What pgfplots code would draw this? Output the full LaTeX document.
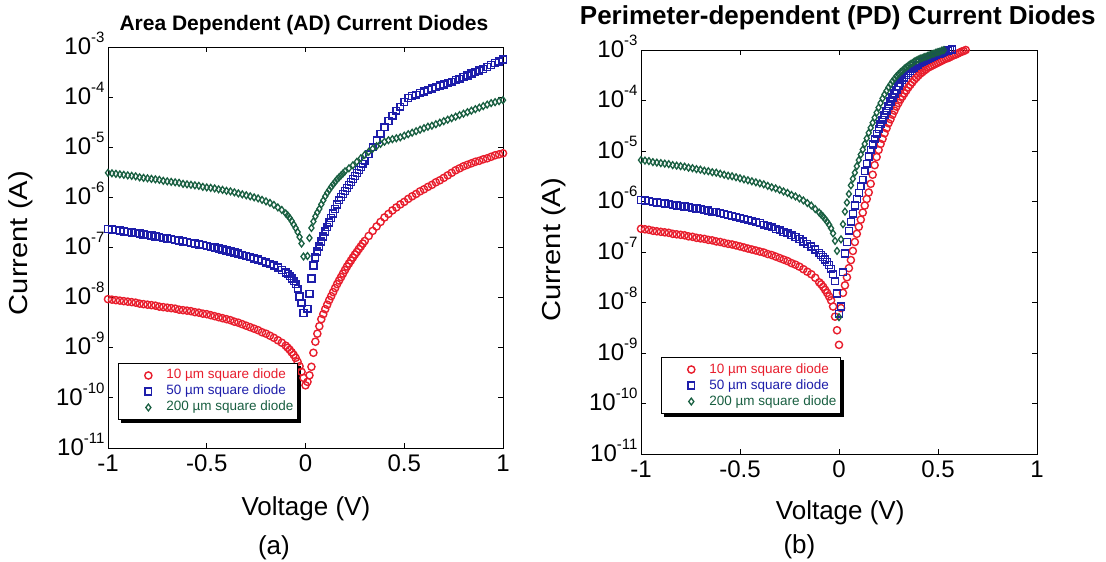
\documentclass[border=0pt]{standalone}
\usepackage{pgfplots}
\pgfplotsset{compat=1.18}
\usepackage{pgfplotstable}
\usepackage{fontspec}
\setmainfont{Liberation Sans}
\usetikzlibrary{backgrounds}
\definecolor{cred}{RGB}{232,30,45}
\definecolor{cblue}{RGB}{30,30,170}
\definecolor{cgreen}{RGB}{25,95,65}
\newcommand{\sps}[1]{\raisebox{12pt}{\fontsize{15}{15}\selectfont #1}}

% ---------- (a) Area dependent ----------
\pgfplotstableread{
V I
-1.00 9.33e-9
-0.98 9.12e-9
-0.96 8.91e-9
-0.94 8.71e-9
-0.92 8.51e-9
-0.90 8.32e-9
-0.88 8.13e-9
-0.86 7.94e-9
-0.84 7.59e-9
-0.82 7.41e-9
-0.80 7.24e-9
-0.78 7.08e-9
-0.76 6.92e-9
-0.74 6.61e-9
-0.72 6.46e-9
-0.70 6.31e-9
-0.68 6.17e-9
-0.66 6.03e-9
-0.64 5.75e-9
-0.62 5.62e-9
-0.60 5.50e-9
-0.58 5.37e-9
-0.56 5.13e-9
-0.54 5.01e-9
-0.52 4.79e-9
-0.50 4.68e-9
-0.48 4.47e-9
-0.46 4.27e-9
-0.44 4.07e-9
-0.42 3.89e-9
-0.40 3.72e-9
-0.38 3.55e-9
-0.36 3.31e-9
-0.34 3.16e-9
-0.32 2.95e-9
-0.30 2.75e-9
-0.28 2.57e-9
-0.26 2.40e-9
-0.24 2.24e-9
-0.22 2.04e-9
-0.20 1.91e-9
-0.18 1.74e-9
-0.16 1.58e-9
-0.14 1.41e-9
-0.12 1.26e-9
-0.10 1.10e-9
-0.09 1.00e-9
-0.08 9.12e-10
-0.07 8.13e-10
-0.06 7.24e-10
-0.05 6.31e-10
-0.04 5.25e-10
-0.03 4.27e-10
-0.02 3.31e-10
-0.01 2.51e-10
0.00 1.78e-10
0.01 2.09e-10
0.02 2.82e-10
0.03 4.17e-10
0.04 7.94e-10
0.05 1.32e-9
0.06 1.91e-9
0.07 2.69e-9
0.08 3.72e-9
0.09 4.68e-9
0.10 5.89e-9
0.11 7.24e-9
0.12 8.91e-9
0.13 1.07e-8
0.14 1.29e-8
0.15 1.55e-8
0.16 1.86e-8
0.17 2.19e-8
0.18 2.57e-8
0.19 3.02e-8
0.20 3.55e-8
0.21 4.17e-8
0.22 4.79e-8
0.23 5.50e-8
0.24 6.31e-8
0.25 7.24e-8
0.26 8.13e-8
0.27 9.33e-8
0.28 1.05e-7
0.29 1.20e-7
0.30 1.35e-7
0.32 1.70e-7
0.34 2.14e-7
0.36 2.63e-7
0.38 3.24e-7
0.40 3.98e-7
0.42 4.68e-7
0.44 5.50e-7
0.46 6.31e-7
0.48 7.24e-7
0.50 8.13e-7
0.52 9.33e-7
0.54 1.05e-6
0.56 1.17e-6
0.58 1.32e-6
0.60 1.45e-6
0.62 1.62e-6
0.64 1.78e-6
0.66 2.00e-6
0.68 2.19e-6
0.70 2.45e-6
0.72 2.75e-6
0.74 3.09e-6
0.76 3.47e-6
0.78 3.80e-6
0.80 4.17e-6
0.82 4.47e-6
0.84 4.79e-6
0.86 5.13e-6
0.88 5.37e-6
0.90 5.75e-6
0.92 6.03e-6
0.94 6.46e-6
0.96 6.92e-6
0.98 7.24e-6
1.00 7.59e-6
}\LR

\pgfplotstableread{
V I
-1.00 2.34e-7
-0.98 2.29e-7
-0.96 2.24e-7
-0.94 2.19e-7
-0.92 2.09e-7
-0.90 2.04e-7
-0.88 2.00e-7
-0.86 1.95e-7
-0.84 1.91e-7
-0.82 1.82e-7
-0.80 1.78e-7
-0.78 1.74e-7
-0.76 1.66e-7
-0.74 1.62e-7
-0.72 1.55e-7
-0.70 1.51e-7
-0.68 1.48e-7
-0.66 1.41e-7
-0.64 1.38e-7
-0.62 1.32e-7
-0.60 1.29e-7
-0.58 1.23e-7
-0.56 1.20e-7
-0.54 1.15e-7
-0.52 1.12e-7
-0.50 1.07e-7
-0.48 1.02e-7
-0.46 1.00e-7
-0.44 9.55e-8
-0.42 9.12e-8
-0.40 8.71e-8
-0.38 8.32e-8
-0.36 7.94e-8
-0.34 7.59e-8
-0.32 7.08e-8
-0.30 6.76e-8
-0.28 6.46e-8
-0.26 6.03e-8
-0.24 5.75e-8
-0.22 5.37e-8
-0.20 5.01e-8
-0.18 4.68e-8
-0.16 4.37e-8
-0.14 3.98e-8
-0.12 3.55e-8
-0.10 3.16e-8
-0.09 2.95e-8
-0.08 2.69e-8
-0.07 2.40e-8
-0.06 2.14e-8
-0.05 1.86e-8
-0.04 1.51e-8
-0.03 1.05e-8
-0.02 7.94e-9
-0.01 4.90e-9
0.01 6.03e-9
0.02 1.20e-8
0.03 2.40e-8
0.04 4.37e-8
0.05 6.31e-8
0.06 8.32e-8
0.07 1.05e-7
0.08 1.32e-7
0.09 1.66e-7
0.10 2.09e-7
0.11 2.57e-7
0.12 3.16e-7
0.13 3.89e-7
0.14 4.79e-7
0.15 5.89e-7
0.16 7.24e-7
0.17 8.71e-7
0.18 1.02e-6
0.19 1.17e-6
0.20 1.35e-6
0.21 1.55e-6
0.22 1.78e-6
0.23 2.04e-6
0.24 2.34e-6
0.25 2.69e-6
0.26 3.09e-6
0.27 3.55e-6
0.28 4.07e-6
0.29 4.68e-6
0.30 5.37e-6
0.32 7.24e-6
0.34 1.00e-5
0.36 1.38e-5
0.38 1.86e-5
0.40 2.51e-5
0.42 3.31e-5
0.44 4.27e-5
0.46 5.37e-5
0.48 6.46e-5
0.50 7.94e-5
0.52 9.55e-5
0.54 1.05e-4
0.56 1.12e-4
0.58 1.20e-4
0.60 1.29e-4
0.62 1.38e-4
0.64 1.48e-4
0.66 1.58e-4
0.68 1.70e-4
0.70 1.78e-4
0.72 1.91e-4
0.74 2.04e-4
0.76 2.19e-4
0.78 2.34e-4
0.80 2.51e-4
0.82 2.69e-4
0.84 2.95e-4
0.86 3.16e-4
0.88 3.39e-4
0.90 3.63e-4
0.92 3.98e-4
0.94 4.37e-4
0.96 4.79e-4
0.98 5.13e-4
1.00 5.62e-4
}\LB

\pgfplotstableread{
V I
-1.00 3.09e-6
-0.98 3.02e-6
-0.96 2.95e-6
-0.94 2.88e-6
-0.92 2.82e-6
-0.90 2.75e-6
-0.88 2.69e-6
-0.86 2.63e-6
-0.84 2.51e-6
-0.82 2.45e-6
-0.80 2.40e-6
-0.78 2.34e-6
-0.76 2.29e-6
-0.74 2.24e-6
-0.72 2.14e-6
-0.70 2.09e-6
-0.68 2.04e-6
-0.66 2.00e-6
-0.64 1.95e-6
-0.62 1.86e-6
-0.60 1.82e-6
-0.58 1.78e-6
-0.56 1.74e-6
-0.54 1.70e-6
-0.52 1.62e-6
-0.50 1.58e-6
-0.48 1.55e-6
-0.46 1.51e-6
-0.44 1.45e-6
-0.42 1.41e-6
-0.40 1.35e-6
-0.38 1.32e-6
-0.36 1.26e-6
-0.34 1.20e-6
-0.32 1.15e-6
-0.30 1.10e-6
-0.28 1.05e-6
-0.26 1.00e-6
-0.24 9.55e-7
-0.22 8.91e-7
-0.20 8.32e-7
-0.18 7.76e-7
-0.16 7.08e-7
-0.14 6.31e-7
-0.12 5.62e-7
-0.10 4.79e-7
-0.09 4.37e-7
-0.08 3.89e-7
-0.07 3.39e-7
-0.06 2.88e-7
-0.05 2.45e-7
-0.04 2.04e-7
-0.03 1.62e-7
-0.02 1.20e-7
-0.01 6.61e-8
0.01 6.76e-8
0.02 1.55e-7
0.03 2.45e-7
0.04 3.31e-7
0.05 4.17e-7
0.06 5.01e-7
0.07 5.89e-7
0.08 7.24e-7
0.09 8.71e-7
0.10 1.05e-6
0.11 1.23e-6
0.12 1.41e-6
0.13 1.62e-6
0.14 1.82e-6
0.15 2.04e-6
0.16 2.29e-6
0.17 2.51e-6
0.18 2.75e-6
0.19 3.02e-6
0.20 3.31e-6
0.22 3.80e-6
0.24 4.37e-6
0.26 5.13e-6
0.28 6.03e-6
0.30 7.08e-6
0.32 8.13e-6
0.34 9.33e-6
0.36 1.05e-5
0.38 1.17e-5
0.40 1.29e-5
0.42 1.38e-5
0.44 1.45e-5
0.46 1.51e-5
0.48 1.58e-5
0.50 1.70e-5
0.52 1.82e-5
0.54 1.95e-5
0.56 2.09e-5
0.58 2.24e-5
0.60 2.40e-5
0.62 2.57e-5
0.64 2.69e-5
0.66 2.88e-5
0.68 3.09e-5
0.70 3.31e-5
0.72 3.55e-5
0.74 3.80e-5
0.76 4.07e-5
0.78 4.37e-5
0.80 4.68e-5
0.82 5.01e-5
0.84 5.37e-5
0.86 5.75e-5
0.88 6.17e-5
0.90 6.61e-5
0.92 7.08e-5
0.94 7.59e-5
0.96 7.94e-5
0.98 8.32e-5
1.00 8.71e-5
}\LG

% ---------- (b) Perimeter dependent ----------
\pgfplotstableread{
V I
-1.00 2.88e-7
-0.98 2.82e-7
-0.96 2.75e-7
-0.94 2.63e-7
-0.92 2.57e-7
-0.90 2.51e-7
-0.88 2.45e-7
-0.86 2.40e-7
-0.84 2.29e-7
-0.82 2.24e-7
-0.80 2.19e-7
-0.78 2.14e-7
-0.76 2.04e-7
-0.74 2.00e-7
-0.72 1.91e-7
-0.70 1.86e-7
-0.68 1.82e-7
-0.66 1.74e-7
-0.64 1.70e-7
-0.62 1.62e-7
-0.60 1.58e-7
-0.58 1.51e-7
-0.56 1.45e-7
-0.54 1.41e-7
-0.52 1.35e-7
-0.50 1.29e-7
-0.48 1.23e-7
-0.46 1.17e-7
-0.44 1.12e-7
-0.42 1.07e-7
-0.40 1.02e-7
-0.38 9.77e-8
-0.36 9.12e-8
-0.34 8.71e-8
-0.32 8.13e-8
-0.30 7.59e-8
-0.28 7.08e-8
-0.26 6.61e-8
-0.24 6.03e-8
-0.22 5.62e-8
-0.20 5.13e-8
-0.18 4.57e-8
-0.16 4.07e-8
-0.14 3.63e-8
-0.12 3.09e-8
-0.10 2.51e-8
-0.09 2.29e-8
-0.08 2.04e-8
-0.07 1.78e-8
-0.06 1.55e-8
-0.05 1.32e-8
-0.04 1.10e-8
-0.03 8.32e-9
-0.02 5.25e-9
-0.01 2.82e-9
0.00 1.45e-9
0.01 7.76e-9
0.02 1.55e-8
0.03 2.19e-8
0.04 3.16e-8
0.05 4.79e-8
0.06 6.92e-8
0.07 1.05e-7
0.08 1.58e-7
0.09 2.29e-7
0.10 3.16e-7
0.11 4.37e-7
0.12 6.03e-7
0.13 8.32e-7
0.14 1.12e-6
0.15 1.51e-6
0.16 2.24e-6
0.17 3.39e-6
0.18 5.25e-6
0.19 7.59e-6
0.20 1.05e-5
0.21 1.38e-5
0.22 1.74e-5
0.23 2.24e-5
0.24 2.82e-5
0.25 3.55e-5
0.26 4.27e-5
0.27 5.25e-5
0.28 6.31e-5
0.29 7.59e-5
0.30 8.91e-5
0.31 1.05e-4
0.32 1.20e-4
0.33 1.38e-4
0.34 1.58e-4
0.35 1.82e-4
0.36 2.04e-4
0.37 2.29e-4
0.38 2.57e-4
0.39 2.82e-4
0.40 3.09e-4
0.41 3.39e-4
0.42 3.63e-4
0.43 3.89e-4
0.44 4.17e-4
0.45 4.47e-4
0.46 4.68e-4
0.47 4.90e-4
0.48 5.13e-4
0.49 5.37e-4
0.50 5.62e-4
0.51 5.89e-4
0.52 6.17e-4
0.53 6.46e-4
0.54 6.76e-4
0.55 6.92e-4
0.56 7.24e-4
0.57 7.59e-4
0.58 7.94e-4
0.59 8.13e-4
0.60 8.51e-4
0.61 8.91e-4
0.62 9.33e-4
0.63 9.55e-4
0.64 1.00e-3
}\RR

\pgfplotstableread{
V I
-1.00 1.07e-6
-0.98 1.05e-6
-0.96 1.02e-6
-0.94 9.77e-7
-0.92 9.55e-7
-0.90 9.33e-7
-0.88 9.12e-7
-0.86 8.91e-7
-0.84 8.51e-7
-0.82 8.32e-7
-0.80 8.13e-7
-0.78 7.94e-7
-0.76 7.76e-7
-0.74 7.41e-7
-0.72 7.24e-7
-0.70 7.08e-7
-0.68 6.76e-7
-0.66 6.61e-7
-0.64 6.31e-7
-0.62 6.17e-7
-0.60 5.89e-7
-0.58 5.62e-7
-0.56 5.37e-7
-0.54 5.25e-7
-0.52 5.01e-7
-0.50 4.79e-7
-0.48 4.57e-7
-0.46 4.37e-7
-0.44 4.17e-7
-0.42 3.89e-7
-0.40 3.72e-7
-0.38 3.47e-7
-0.36 3.31e-7
-0.34 3.09e-7
-0.32 2.88e-7
-0.30 2.69e-7
-0.28 2.51e-7
-0.26 2.34e-7
-0.24 2.14e-7
-0.22 2.00e-7
-0.20 1.82e-7
-0.18 1.62e-7
-0.16 1.45e-7
-0.14 1.29e-7
-0.12 1.12e-7
-0.10 9.55e-8
-0.09 8.71e-8
-0.08 7.94e-8
-0.07 7.08e-8
-0.06 6.31e-8
-0.05 5.50e-8
-0.04 4.68e-8
-0.03 3.63e-8
-0.02 2.63e-8
-0.01 1.51e-8
0.00 6.03e-9
0.01 8.32e-9
0.02 3.98e-8
0.03 9.33e-8
0.04 1.58e-7
0.05 2.63e-7
0.06 3.98e-7
0.07 5.75e-7
0.08 8.32e-7
0.09 1.12e-6
0.10 1.48e-6
0.11 2.00e-6
0.12 2.69e-6
0.13 3.98e-6
0.14 5.62e-6
0.15 7.76e-6
0.16 1.05e-5
0.17 1.35e-5
0.18 1.70e-5
0.19 2.19e-5
0.20 2.75e-5
0.21 3.39e-5
0.22 4.17e-5
0.23 5.13e-5
0.24 6.31e-5
0.25 7.76e-5
0.26 9.55e-5
0.27 1.15e-4
0.28 1.38e-4
0.29 1.62e-4
0.30 1.91e-4
0.31 2.19e-4
0.32 2.51e-4
0.33 2.82e-4
0.34 3.16e-4
0.35 3.47e-4
0.36 3.80e-4
0.37 4.17e-4
0.38 4.47e-4
0.39 4.79e-4
0.40 5.13e-4
0.41 5.50e-4
0.42 5.75e-4
0.43 6.17e-4
0.44 6.46e-4
0.45 6.76e-4
0.46 7.08e-4
0.47 7.41e-4
0.48 7.76e-4
0.49 7.94e-4
0.50 8.32e-4
0.51 8.51e-4
0.52 8.91e-4
0.53 9.12e-4
0.54 9.55e-4
0.55 9.77e-4
0.56 1.00e-3
0.57 1.02e-3
}\RB

\pgfplotstableread{
V I
-1.00 6.61e-6
-0.98 6.46e-6
-0.96 6.31e-6
-0.94 6.03e-6
-0.92 5.89e-6
-0.90 5.75e-6
-0.88 5.62e-6
-0.86 5.50e-6
-0.84 5.25e-6
-0.82 5.13e-6
-0.80 5.01e-6
-0.78 4.90e-6
-0.76 4.68e-6
-0.74 4.57e-6
-0.72 4.37e-6
-0.70 4.27e-6
-0.68 4.07e-6
-0.66 3.98e-6
-0.64 3.80e-6
-0.62 3.72e-6
-0.60 3.55e-6
-0.58 3.39e-6
-0.56 3.24e-6
-0.54 3.16e-6
-0.52 3.02e-6
-0.50 2.88e-6
-0.48 2.75e-6
-0.46 2.63e-6
-0.44 2.51e-6
-0.42 2.40e-6
-0.40 2.29e-6
-0.38 2.19e-6
-0.36 2.04e-6
-0.34 1.91e-6
-0.32 1.82e-6
-0.30 1.70e-6
-0.28 1.58e-6
-0.26 1.48e-6
-0.24 1.35e-6
-0.22 1.26e-6
-0.20 1.15e-6
-0.18 1.05e-6
-0.16 9.33e-7
-0.14 8.32e-7
-0.12 7.08e-7
-0.10 6.03e-7
-0.09 5.50e-7
-0.08 5.01e-7
-0.07 4.47e-7
-0.06 3.98e-7
-0.05 3.47e-7
-0.04 2.95e-7
-0.03 2.34e-7
-0.02 1.66e-7
-0.01 1.05e-7
0.00 5.13e-9
0.01 1.78e-7
0.02 3.55e-7
0.03 6.31e-7
0.04 9.55e-7
0.05 1.41e-6
0.06 2.09e-6
0.07 2.82e-6
0.08 3.72e-6
0.09 5.01e-6
0.10 6.61e-6
0.11 8.51e-6
0.12 1.07e-5
0.13 1.38e-5
0.14 1.78e-5
0.15 2.29e-5
0.16 2.88e-5
0.17 3.63e-5
0.18 4.57e-5
0.19 5.75e-5
0.20 7.24e-5
0.21 8.91e-5
0.22 1.10e-4
0.23 1.32e-4
0.24 1.55e-4
0.25 1.82e-4
0.26 2.09e-4
0.27 2.40e-4
0.28 2.69e-4
0.29 3.02e-4
0.30 3.31e-4
0.31 3.63e-4
0.32 3.89e-4
0.33 4.27e-4
0.34 4.57e-4
0.35 4.90e-4
0.36 5.25e-4
0.37 5.50e-4
0.38 5.89e-4
0.39 6.17e-4
0.40 6.46e-4
0.41 6.76e-4
0.42 6.92e-4
0.43 7.24e-4
0.44 7.41e-4
0.45 7.76e-4
0.46 7.94e-4
0.47 8.32e-4
0.48 8.51e-4
0.49 8.91e-4
0.50 9.12e-4
0.51 9.33e-4
0.52 9.77e-4
0.53 1.00e-3
}\RG

\begin{document}
\begin{tikzpicture}
\useasboundingbox (0,0) rectangle (1106pt,562pt);

\pgfplotsset{
  every axis/.append style={
    scale only axis, clip=false,
    xmin=-1, xmax=1, ymin=1e-11, ymax=1e-3,
    xtick={-1,-0.5,0,0.5,1},
    xticklabels={-1,-0.5,0,0.5,1},
    ytick={1e-11,1e-10,1e-9,1e-8,1e-7,1e-6,1e-5,1e-4,1e-3},
    yticklabels={10\sps{-11},10\sps{-10},10\sps{-9},10\sps{-8},10\sps{-7},10\sps{-6},10\sps{-5},10\sps{-4},10\sps{-3}},
    yminorticks=false,
    major tick length=5pt,
    tick style={line width=0.8pt, black},
    axis line style={line width=1pt, black},
    tick label style={font=\fontsize{24}{24}\selectfont},
    yticklabel style={yshift=4pt},
    xticklabel style={yshift=-3pt},
    legend cell align=left,
    legend style={draw=black, line width=1pt, fill=white,
      font=\fontsize{13.5}{15}\selectfont,
      inner xsep=3pt, inner ysep=4pt, column sep=10pt,
      nodes={inner sep=1pt, text height=10.5pt, text depth=3.5pt}},
  },
}

\begin{semilogyaxis}[at={(108pt,114pt)}, anchor=south west,
  width=395pt, height=401pt,
  legend image code/.code={\path[draw=none,fill=none] (0pt,0pt) -- (34pt,0pt); \draw[#1] plot coordinates {(27pt,0pt)};},
  legend style={at={(0.025,0.212)}, anchor=north west, name=legA}]
\addplot[only marks, mark=o, mark size=3.6pt, color=cred, mark options={line width=1.4pt}] table[x=V,y=I] {\LR};
\addlegendentry{\textcolor{cred}{10 µm square diode}}
\addplot[only marks, mark=square, mark size=3.4pt, color=cblue, mark options={line width=1.4pt}] table[x=V,y=I] {\LB};
\addlegendentry{\textcolor{cblue}{50 µm square diode}}
\addplot[only marks, mark=diamond, mark size=3.4pt, color=cgreen, mark options={line width=1.3pt}] table[x=V,y=I] {\LG};
\addlegendentry{\textcolor{cgreen}{200 µm square diode}}
\node[anchor=base, font=\bfseries\fontsize{21}{24}\selectfont] at (rel axis cs:0.496,1) [yshift=17pt] {Area Dependent (AD) Current Diodes};
\node[font=\fontsize{26}{30}\selectfont] at (rel axis cs:0.501,0) [yshift=-61pt] {Voltage (V)};
\node[font=\fontsize{26}{30}\selectfont] at (rel axis cs:0.42,0) [yshift=-100pt] {(a)};
\node[rotate=90, font=\fontsize{26}{30}\selectfont] at ([xshift=-87pt]rel axis cs:0,0.511) {\scalebox{1.12}[1]{Current (A)}};
\end{semilogyaxis}

\begin{semilogyaxis}[at={(641pt,108pt)}, anchor=south west,
  width=396pt, height=404pt,
  legend image code/.code={\path[draw=none,fill=none] (0pt,0pt) -- (34pt,0pt); \draw[#1] plot coordinates {(27pt,0pt)};},
  legend style={at={(0.05,0.24)}, anchor=north west, name=legB}]
\addplot[only marks, mark=o, mark size=3.6pt, color=cred, mark options={line width=1.4pt}] table[x=V,y=I] {\RR};
\addlegendentry{\textcolor{cred}{10 µm square diode}}
\addplot[only marks, mark=square, mark size=3.4pt, color=cblue, mark options={line width=1.4pt}] table[x=V,y=I] {\RB};
\addlegendentry{\textcolor{cblue}{50 µm square diode}}
\addplot[only marks, mark=diamond, mark size=3.4pt, color=cgreen, mark options={line width=1.3pt}] table[x=V,y=I] {\RG};
\addlegendentry{\textcolor{cgreen}{200 µm square diode}}
\node[anchor=base, font=\bfseries\fontsize{26}{30}\selectfont] at (rel axis cs:0.497,1) [yshift=26pt] {Perimeter-dependent (PD) Current Diodes};
\node[font=\fontsize{26}{30}\selectfont] at (rel axis cs:0.503,0) [yshift=-59pt] {Voltage (V)};
\node[font=\fontsize{26}{30}\selectfont] at (rel axis cs:0.40,0) [yshift=-93pt] {(b)};
\node[rotate=90, font=\fontsize{26}{30}\selectfont] at ([xshift=-87pt]rel axis cs:0,0.505) {\scalebox{1.12}[1]{Current (A)}};
\end{semilogyaxis}

\begin{scope}[on background layer]
\fill[black] ([xshift=3pt,yshift=-3pt]legA.south west) rectangle ([xshift=3pt,yshift=-3pt]legA.north east);
\fill[black] ([xshift=3pt,yshift=-3pt]legB.south west) rectangle ([xshift=3pt,yshift=-3pt]legB.north east);
\end{scope}
\end{tikzpicture}
\end{document}
